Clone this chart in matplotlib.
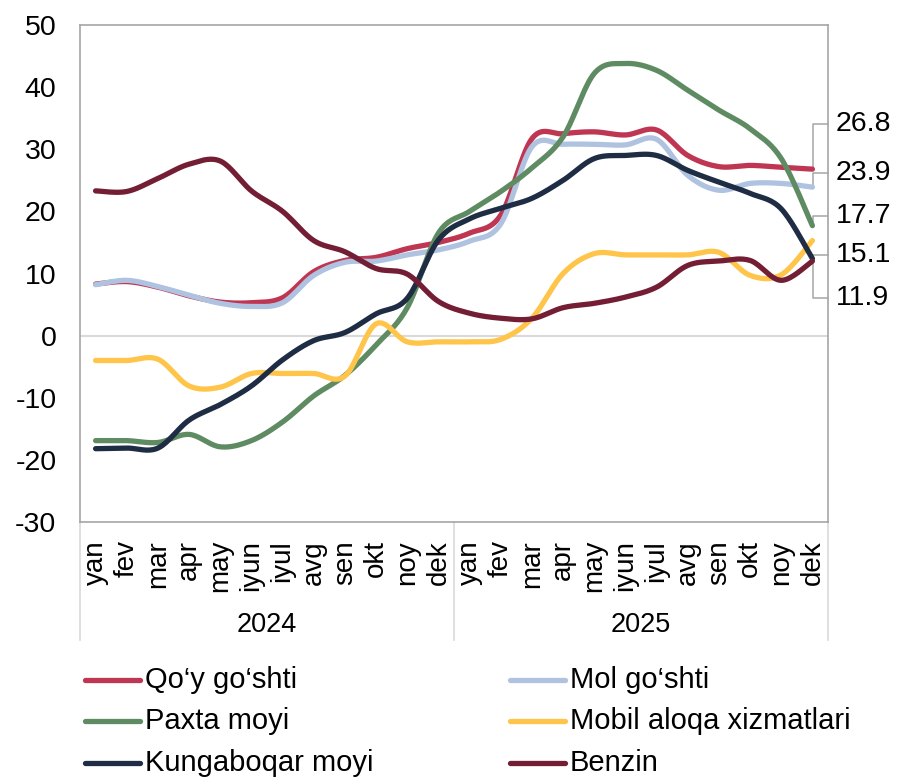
import numpy as np
import matplotlib
matplotlib.use("Agg")
import matplotlib.pyplot as plt
import matplotlib.transforms as mtransforms

plt.rcParams['font.family'] = ['Liberation Sans', 'DejaVu Sans']
plt.rcParams['axes.unicode_minus'] = False

months = ["yan", "fev", "mar", "apr", "may", "iyun", "iyul", "avg", "sen", "okt", "noy", "dek"]
years = ["2024", "2025"]

qoy_goshti = [8.3, 8.7, 7.8, 6.4, 5.4, 5.3, 6.1, 10.3, 12.1, 12.6, 14.0, 15.0,
              16.5, 19.4, 31.7, 32.5, 32.8, 32.3, 33.1, 29.0, 27.2, 27.4, 27.1, 26.8]
mol_goshti = [8.2, 8.9, 7.9, 6.5, 5.2, 4.7, 5.3, 9.7, 11.8, 12.0, 13.0, 13.8,
              15.2, 18.0, 30.4, 30.8, 30.8, 30.7, 31.6, 25.8, 23.4, 24.5, 24.5, 23.9]
paxta_moyi = [-16.9, -16.9, -17.2, -15.9, -17.9, -16.9, -13.9, -9.7, -6.4, -1.5, 4.5, 16.5,
              20.0, 23.2, 27.0, 32.0, 42.2, 43.8, 42.7, 39.5, 36.3, 33.3, 28.5, 17.7]
mobil_aloqa = [-4.0, -4.0, -3.8, -8.1, -8.3, -6.1, -6.1, -6.1, -6.5, 1.9, -1.0, -1.0,
               -1.0, -0.6, 2.8, 10.0, 13.2, 13.0, 13.0, 13.0, 13.4, 9.7, 9.8, 15.3]
kungaboqar_moyi = [-18.2, -18.1, -18.1, -13.6, -11.1, -8.1, -3.9, -0.8, 0.5, 3.5, 6.0, 15.4,
                   18.8, 20.5, 22.1, 25.0, 28.5, 29.0, 29.0, 26.6, 24.7, 22.9, 20.4, 12.4]
benzin = [23.3, 23.2, 25.3, 27.6, 28.1, 23.3, 20.0, 15.3, 13.5, 10.8, 9.9, 5.5,
          3.6, 2.8, 2.7, 4.5, 5.2, 6.2, 7.8, 11.3, 12.0, 12.1, 8.9, 12.0]

series = [
    ("Qo\u2018y go\u2018shti", qoy_goshti, "#BF3652"),
    ("Mol go\u2018shti", mol_goshti, "#AFC3E0"),
    ("Paxta moyi", paxta_moyi, "#5F8B63"),
    ("Mobil aloqa xizmatlari", mobil_aloqa, "#FFC54B"),
    ("Kungaboqar moyi", kungaboqar_moyi, "#1E2C44"),
    ("Benzin", benzin, "#731E34"),
]

# end labels: text and which series they point to
end_labels = ["26.8", "23.9", "17.7", "15.1", "11.9"]
end_label_series = [0, 1, 2, 4, 5]


def smooth(x, y, n=20):
    # excel-like smoothed line (catmull-rom bezier)
    pts = np.column_stack([x, y]).astype(float)
    P = np.vstack([pts[0], pts, pts[-1]])
    out = []
    t = np.linspace(0, 1, n)[:, None]
    for k in range(len(pts) - 1):
        p0, p1, p2, p3 = P[k], P[k + 1], P[k + 2], P[k + 3]
        c1 = p1 + (p2 - p0) / 6
        c2 = p2 - (p3 - p1) / 6
        seg = (1 - t) ** 3 * p1 + 3 * (1 - t) ** 2 * t * c1 + 3 * (1 - t) * t ** 2 * c2 + t ** 3 * p2
        out.append(seg if k == 0 else seg[1:])
    return np.vstack(out)


W, H = 897, 777
fig = plt.figure(figsize=(W / 100, H / 100), dpi=100)
ax = fig.add_axes([80 / W, 1 - 522 / H, 748 / W, 497 / H])

labels = months * len(years)
x = np.arange(len(labels))

ax.axhline(0, color="#D9D9D9", lw=1.5, zorder=1)

for name, vals, col in series:
    s = smooth(x, vals)
    ax.plot(s[:, 0], s[:, 1], color=col, lw=3.8, solid_capstyle="round", zorder=3)

ax.set_xlim(-0.5, len(labels) - 0.5)
ax.set_ylim(-30, 50)
ax.set_yticks(range(-30, 51, 10))
ax.tick_params(axis="y", length=0, pad=17, labelsize=20.5)
ax.set_xticks(x)
ax.set_xticklabels(labels, rotation=90, fontsize=20)
ax.tick_params(axis="x", length=0, pad=13)
for sp in ax.spines.values():
    sp.set_color("#A6A6A6")
    sp.set_linewidth(1.2)

# year groups under month labels
trans = mtransforms.blended_transform_factory(ax.transData, ax.transAxes)
for k in range(len(years) + 1):
    xb = k * len(months) - 0.5
    ax.plot([xb, xb], [0, -0.237], color="#D9D9D9", lw=1.2, transform=trans, clip_on=False)
for k, yr in enumerate(years):
    xc = k * len(months) + (len(months) - 1) / 2
    ax.text(xc, -0.207, yr, transform=trans, ha="center", va="center", fontsize=19.5)

# end labels with leader lines
label_y = [34.1, 26.1, 19.2, 12.9, 6.0]
xe = x[-1]
for txt, si, ly in zip(end_labels, end_label_series, label_y):
    ye = series[si][1][-1]
    ax.plot([xe + 0.03, xe + 0.03, xe + 0.5], [ye, ly, ly], color="#A6A6A6", lw=1.1,
            clip_on=False, zorder=2)
    ax.text(xe + 0.74, ly, txt, ha="left", va="center", fontsize=20.5, clip_on=False)

# legend, two columns
col_x = [85, 510]
row_y = [680, 721, 763]
for i, (name, vals, col) in enumerate(series):
    cx = col_x[i % 2]
    cy = 1 - row_y[i // 2] / H
    fig.add_artist(plt.Line2D([cx / W, (cx + 55) / W], [cy, cy], color=col, lw=3.8,
                              solid_capstyle="round", transform=fig.transFigure))
    fig.text((cx + 60) / W, cy, name, ha="left", va="center", fontsize=21)

fig.savefig("out.png", dpi=100)
